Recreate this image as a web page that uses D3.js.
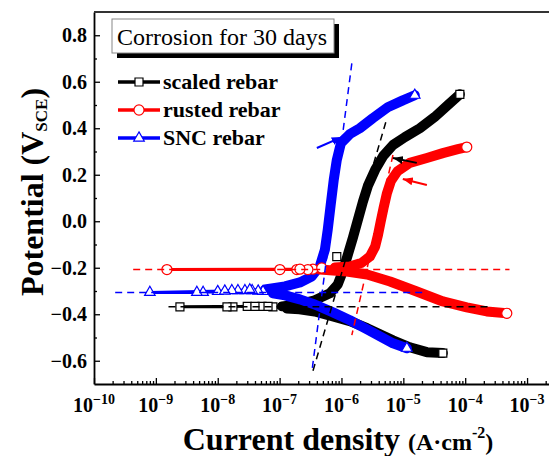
<!DOCTYPE html>
<html>
<head>
<meta charset="utf-8">
<script src="https://cdn.jsdelivr.net/npm/d3@7"></script>
<style>
  body { margin: 0; background: #fff; }
  text { font-family: "Liberation Serif", "Times New Roman", serif; }
</style>
</head>
<body>
<script>
// Axis ticks
var xTickExps = [-10, -9, -8, -7, -6, -5, -4, -3];
var yTicks = [-0.6, -0.4, -0.2, 0.0, 0.2, 0.4, 0.6, 0.8];
var yMinorTicks = [-0.5, -0.3, -0.1, 0.1, 0.3, 0.5, 0.7];

var seriesNames = ["scaled rebar", "rusted rebar", "SNC rebar"];
var seriesColors = ["#000000", "#ff0000", "#0000ff"];
var seriesSymbols = [d3.symbolSquare, d3.symbolCircle, d3.symbolTriangle];

// [current density (A/cm2), potential (V vs SCE)]
var scaledCathodic = [[4.35e-5, -0.567], [2.4e-5, -0.563], [1.27e-5, -0.542], [6.8e-6, -0.512], [4.2e-6, -0.486],
  [2.6e-6, -0.460], [1.37e-6, -0.430], [7.3e-7, -0.409], [3.7e-7, -0.388], [2.1e-7, -0.379], [1.31e-7, -0.375]];
var scaledNearEcorr = [[7.8e-8, -0.368], [5.2e-8, -0.366], [3.0e-8, -0.366], [1.76e-8, -0.368], [1.41e-8, -0.368],
  [2.45e-9, -0.368], [4.0e-8, -0.366], [6.5e-8, -0.366]];
var scaledAnodic = [[1.09e-7, -0.366], [1.98e-7, -0.358], [3.7e-7, -0.340], [6.5e-7, -0.310], [8.7e-7, -0.272],
  [1.05e-6, -0.216], [1.27e-6, -0.143], [1.53e-6, -0.071], [1.84e-6, 0.006], [2.22e-6, 0.084], [2.67e-6, 0.152],
  [3.5e-6, 0.221], [4.7e-6, 0.280], [6.8e-6, 0.328], [1.06e-5, 0.362], [1.85e-5, 0.400], [3.2e-5, 0.448],
  [5.2e-5, 0.499], [8.2e-5, 0.546]];
var scaledOutlier = [[8.4e-7, -0.152]];

var rustedCathodic = [[4.7e-4, -0.396], [2.23e-4, -0.388], [1.06e-4, -0.370], [4.35e-5, -0.345], [1.65e-5, -0.302],
  [6.1e-6, -0.259], [2.6e-6, -0.229], [1.22e-6, -0.216], [7.3e-7, -0.212], [4.5e-7, -0.208]];
var rustedNearEcorr = [[3.45e-7, -0.206], [2.86e-7, -0.208], [1.9e-7, -0.208], [1.01e-7, -0.208], [1.51e-9, -0.208],
  [2.13e-7, -0.206], [4.8e-7, -0.201]];
var rustedAnodic = [[7.8e-7, -0.199], [1.37e-6, -0.195], [2.14e-6, -0.178], [2.88e-6, -0.152], [3.5e-6, -0.109],
  [3.9e-6, -0.058], [4.3e-6, -0.002], [4.8e-6, 0.058], [5.4e-6, 0.118], [6.3e-6, 0.173], [8.1e-6, 0.216],
  [1.27e-5, 0.251], [2.4e-5, 0.272], [4.35e-5, 0.293], [7.6e-5, 0.310], [1.06e-4, 0.319]];

var sncCathodic = [[1.14e-5, -0.546], [6.8e-6, -0.525], [4.2e-6, -0.495], [2.6e-6, -0.465], [1.37e-6, -0.426],
  [7.3e-7, -0.392], [3.7e-7, -0.358], [2.13e-7, -0.336], [1.22e-7, -0.319], [7.8e-8, -0.310]];
var sncNearEcorr = [[5.4e-8, -0.302], [4.5e-8, -0.300], [3.6e-8, -0.298], [2.75e-8, -0.298], [2.12e-8, -0.298],
  [1.69e-8, -0.298], [1.0e-8, -0.302], [5.8e-9, -0.306], [4.6e-9, -0.306], [8.0e-10, -0.306], [1.3e-8, -0.300],
  [3.3e-8, -0.295]];
var sncAnodic = [[5.8e-8, -0.293], [1.22e-7, -0.280], [2.13e-7, -0.263], [3.3e-7, -0.238], [4.5e-7, -0.191],
  [5.4e-7, -0.122], [6.0e-7, -0.036], [6.7e-7, 0.071], [7.5e-7, 0.178], [8.4e-7, 0.263], [9.8e-7, 0.336],
  [1.37e-6, 0.375], [1.98e-6, 0.400], [3.2e-6, 0.443], [5.6e-6, 0.490], [9.8e-6, 0.520], [1.53e-5, 0.542]];

// Tafel fit lines (dashed) and corrosion potentials
var scaledTafel = [[5.2e-6, 0.426], [3.45e-7, -0.645]];
var rustedTafel = [[6.8e-6, 0.285], [1.47e-6, -0.490]];
var sncTafel = [[1.47e-6, 0.679], [3.33e-7, -0.645]];
var scaledEcorr = [[1.6e-9, -0.368], [2.5e-4, -0.368]];
var rustedEcorr = [[4.3e-10, -0.208], [5.2e-4, -0.208]];
var sncEcorr = [[2.2e-10, -0.306], [2.2e-5, -0.306]];

// arrows [from, to]
var scaledArrow = [[1.65e-5, 0.251], [6.8e-6, 0.272]];
var rustedArrow = [[2.4e-5, 0.156], [9.8e-6, 0.182]];
var sncArrow = [[4.0e-7, 0.315], [1.01e-6, 0.362]];

// SVG area
var svgWidth = 549;
var svgHeight = 456;
var margin = { top: 12, right: -9, bottom: 72, left: 94 };
var chartWidth = svgWidth - margin.left - margin.right;
var chartHeight = svgHeight - margin.top - margin.bottom;

var svg = d3.select("body").append("svg")
  .attr("width", svgWidth)
  .attr("height", svgHeight);

var chartGroup = svg.append("g")
  .attr("transform", `translate(${margin.left}, ${margin.top})`);

var x = d3.scaleLog().domain([1e-10, Math.pow(10, -2.5)]).range([0, chartWidth]);
var y = d3.scaleLinear().domain([-0.7, 0.9]).range([chartHeight, 0]);

// minor log ticks
var xMinor = [];
xTickExps.forEach(function(e) {
  for (var m = 2; m <= 9; m++) {
    var v = m * Math.pow(10, e);
    if (v < x.domain()[1]) xMinor.push(v);
  }
});

chartGroup.append("defs").append("clipPath").attr("id", "clip")
  .append("rect").attr("width", chartWidth).attr("height", chartHeight);

// axes (ticks point inward)
chartGroup.append("g").attr("transform", `translate(0, ${chartHeight})`)
  .call(d3.axisBottom(x).tickValues(xMinor).tickSize(-3).tickFormat(""))
  .call(g => g.select(".domain").remove());
chartGroup.append("g").attr("class", "axis").attr("transform", `translate(0, ${chartHeight})`)
  .call(d3.axisBottom(x).tickValues(xTickExps.map(e => Math.pow(10, e))).tickSize(-6).tickSizeOuter(0).tickFormat(""));
chartGroup.append("g")
  .call(d3.axisLeft(y).tickValues(yMinorTicks).tickSize(-3).tickFormat(""))
  .call(g => g.select(".domain").remove());
chartGroup.append("g").attr("class", "axis")
  .call(d3.axisLeft(y).tickValues(yTicks).tickSize(-6).tickSizeOuter(0).tickFormat(""));

chartGroup.selectAll(".tick line").attr("stroke", "#000").attr("stroke-width", 1.3);
chartGroup.selectAll(".axis .domain").attr("stroke", "#000").attr("stroke-width", 1.8);

// top frame line
chartGroup.append("line")
  .attr("x1", 0).attr("x2", chartWidth).attr("y1", 0).attr("y2", 0)
  .attr("stroke", "#333").attr("stroke-width", 2);

// tick labels
chartGroup.selectAll(".xlab").data(xTickExps).enter().append("text")
  .attr("x", d => x(Math.pow(10, d)))
  .attr("y", chartHeight + 28)
  .attr("text-anchor", "middle")
  .style("font-size", "20px").style("font-weight", "bold")
  .each(function(d) {
    var t = d3.select(this);
    t.append("tspan").text("10");
    t.append("tspan").attr("dy", -8).style("font-size", "14px").text("\u2212" + (-d));
  });

chartGroup.selectAll(".ylab").data(yTicks).enter().append("text")
  .attr("x", -7)
  .attr("y", d => y(d) + 7)
  .attr("text-anchor", "end")
  .style("font-size", "20px").style("font-weight", "bold")
  .text(d => (d < 0 ? "\u2212" : "") + Math.abs(d).toFixed(1));

// axis titles
var xTitle = chartGroup.append("text")
  .attr("x", 244).attr("y", chartHeight + 66)
  .attr("text-anchor", "middle")
  .style("font-weight", "bold");
xTitle.append("tspan").style("font-size", "32px").text("Current density ");
xTitle.append("tspan").style("font-size", "24px").text("(A\u00b7cm");
xTitle.append("tspan").style("font-size", "16px").attr("dy", -12).text("-2");
xTitle.append("tspan").style("font-size", "24px").attr("dy", 12).text(")");

var yTitle = chartGroup.append("text")
  .attr("transform", "translate(-51, 180) rotate(-90)")
  .attr("text-anchor", "middle")
  .style("font-weight", "bold");
yTitle.append("tspan").style("font-size", "32px").text("Potential (V");
yTitle.append("tspan").style("font-size", "17px").attr("dy", 4).text("SCE");
yTitle.append("tspan").style("font-size", "32px").attr("dy", -4).text(")");

// curves
var drawLine = d3.line().x(d => x(d[0])).y(d => y(d[1]));
var plotGroup = chartGroup.append("g").attr("clip-path", "url(#clip)");

var curves = [
  { cath: scaledCathodic, near: scaledNearEcorr, anod: scaledAnodic, extra: scaledOutlier },
  { cath: sncCathodic, near: sncNearEcorr, anod: sncAnodic, extra: [] },
  { cath: rustedCathodic, near: rustedNearEcorr, anod: rustedAnodic, extra: [] }
];
var curveIndex = [0, 2, 1];
var symbolSizes = [64, 80, 48];

curves.forEach(function(c, k) {
  var i = curveIndex[k];
  var color = seriesColors[i];
  var full = c.cath.concat(c.near, c.anod);

  plotGroup.append("path").attr("d", drawLine(full))
    .attr("fill", "none").attr("stroke", color).attr("stroke-width", 3);

  [c.cath, c.anod].forEach(function(branch) {
    plotGroup.append("path").attr("d", drawLine(branch))
      .attr("fill", "none").attr("stroke", color).attr("stroke-width", 10)
      .attr("stroke-linejoin", "round").attr("stroke-linecap", "round");
  });

  var markers = c.near.concat(c.extra, [c.cath[0], c.anod[c.anod.length - 1]]);
  plotGroup.selectAll(null).data(markers).enter().append("path")
    .attr("d", d3.symbol().type(seriesSymbols[i]).size(symbolSizes[i]))
    .attr("transform", d => `translate(${x(d[0])}, ${y(d[1])})`)
    .attr("fill", "#fff").attr("stroke", color).attr("stroke-width", 1.2);
});

// dashed Tafel / Ecorr lines
var dashed = [
  [scaledTafel, 0], [scaledEcorr, 0],
  [rustedTafel, 1], [rustedEcorr, 1],
  [sncTafel, 2], [sncEcorr, 2]
];
dashed.forEach(function(d) {
  plotGroup.append("path").attr("d", drawLine(d[0]))
    .attr("fill", "none").attr("stroke", seriesColors[d[1]])
    .attr("stroke-width", 1.5).attr("stroke-dasharray", "7,5");
});

// arrows
var defs = svg.append("defs");
seriesColors.forEach(function(color, i) {
  defs.append("marker").attr("id", "arrow" + i)
    .attr("markerUnits", "userSpaceOnUse")
    .attr("viewBox", "0 0 10 8").attr("refX", 10).attr("refY", 4)
    .attr("markerWidth", 10).attr("markerHeight", 8).attr("orient", "auto")
    .append("path").attr("d", "M0,0 L10,4 L0,8 Z").attr("fill", color);
});
[[scaledArrow, 0], [rustedArrow, 1], [sncArrow, 2]].forEach(function(a) {
  chartGroup.append("line")
    .attr("x1", x(a[0][0][0])).attr("y1", y(a[0][0][1]))
    .attr("x2", x(a[0][1][0])).attr("y2", y(a[0][1][1]))
    .attr("stroke", seriesColors[a[1]]).attr("stroke-width", 2)
    .attr("marker-end", `url(#arrow${a[1]})`);
});

// title box with shadow
svg.append("rect").attr("x", 117).attr("y", 24).attr("width", 222).attr("height", 34).attr("fill", "#000");
svg.append("rect").attr("x", 112).attr("y", 19).attr("width", 222).attr("height", 34)
  .attr("fill", "#fff").attr("stroke", "#888").attr("stroke-width", 1);
svg.append("text").attr("x", 117).attr("y", 45)
  .style("font-size", "24px").text("Corrosion for 30 days");

// legend
var legend = svg.selectAll(".legend").data(seriesNames).enter().append("g")
  .attr("transform", (d, i) => `translate(118, ${82 + i * 28})`);
legend.append("line").attr("x1", 0).attr("x2", 42).attr("y1", 0).attr("y2", 0)
  .attr("stroke", (d, i) => seriesColors[i]).attr("stroke-width", 3.5);
legend.append("path")
  .attr("d", (d, i) => d3.symbol().type(seriesSymbols[i]).size(symbolSizes[i])())
  .attr("transform", "translate(21, 0)")
  .attr("fill", "#fff").attr("stroke", (d, i) => seriesColors[i]).attr("stroke-width", 1.2);
legend.append("text").attr("x", 45).attr("y", 7)
  .style("font-size", "22px").style("font-weight", "bold")
  .text(d => d);
</script>
</body>
</html>
